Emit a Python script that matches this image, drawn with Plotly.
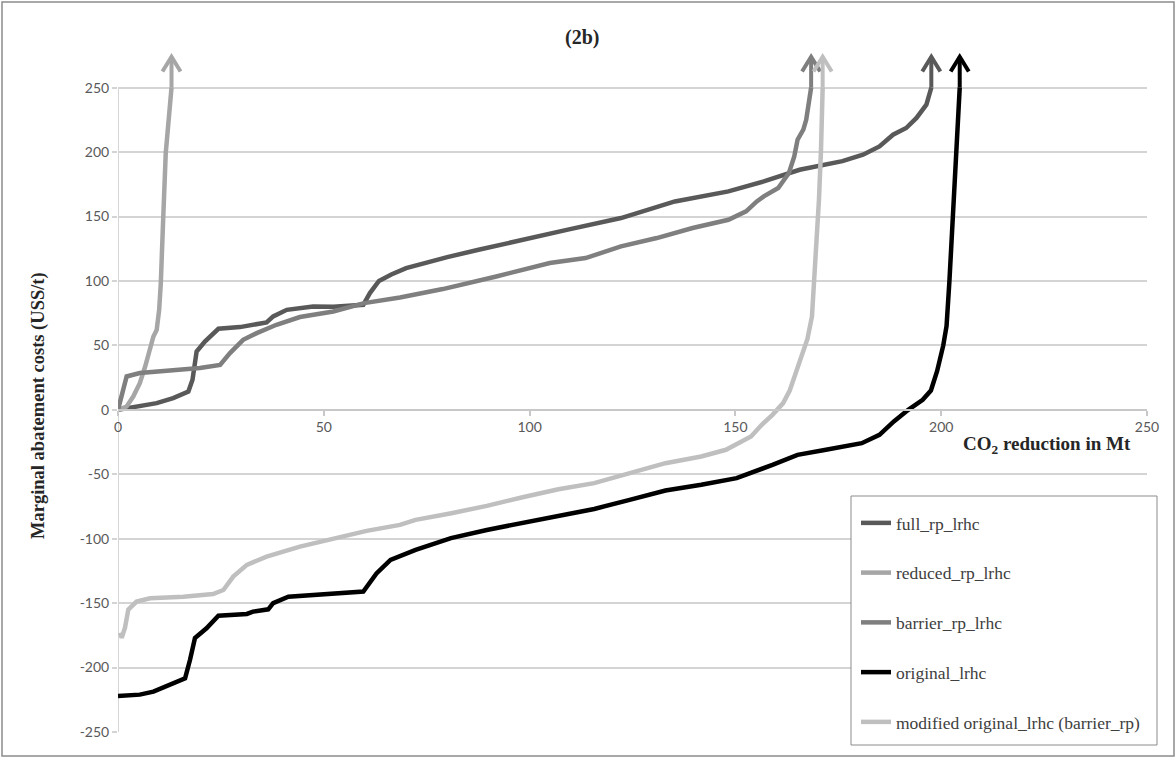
import plotly.graph_objects as go

# Marginal abatement cost curves: cumulative CO2 reduction (Mt) vs. cost (US$/t)
full_x = [0, 5.3, 9.4, 13.4, 17.1, 18.1, 19.1, 21.1, 24.4, 29.6, 32.9, 36.1, 37.7, 41, 47.4,
          52.3, 59.6, 61.2, 63.4, 66.4, 70, 74.5, 80, 87.6, 96.2, 109.3, 122.2, 135.3, 148.3,
          156.9, 165.6, 172.1, 176, 181, 185, 188.3, 191.5, 194, 196.4, 197.6]
full_y = [0, 2.6, 5.2, 9.1, 14.2, 23.3, 45.3, 53, 62.9, 64.2, 66, 67.8, 72.5, 77.6, 80.2,
          80, 81.5, 90.6, 100, 105, 110, 113.9, 118.5, 124.2, 130.7, 139.8, 148.8, 161.7, 169.5,
          177.3, 186.3, 190.2, 193, 198, 204.4, 213.5, 218.7, 226.5, 236.8, 250]

reduced_x = [0, 2.1, 3.7, 5.3, 6.6, 7.4, 8.6, 9.4, 10, 10.4, 10.8, 11, 11.6, 12.3, 13]
reduced_y = [0, 2.6, 10.3, 20.7, 33.6, 44, 56.9, 62, 77.6, 98.4, 124.2, 150, 199.3, 225, 250]

barrier_x = [0, 1.5, 2.1, 5.3, 11.8, 19.9, 24.8, 27.2, 30.4, 33.7, 38.5, 44.2, 52.3, 59.8, 68.5,
             78.9, 91.9, 104.9, 113.6, 122.2, 130.9, 139.6, 148.3, 152.6, 155.2, 156.9, 160.4,
             163, 164.3, 165.1, 166.5, 167.2, 168.4]
barrier_y = [0, 20.7, 25.9, 28.5, 30.5, 32.4, 34.9, 44, 54.3, 59.5, 66, 72, 76.3, 82.8, 87.2,
             93.7, 103.5, 113.9, 117.8, 126.8, 133.3, 141.1, 147.5, 154, 161.7, 165.6, 172.1,
             183.8, 196.7, 209.6, 217.4, 225, 250]

original_x = [0, 5.3, 8.6, 12.6, 16.3, 17.5, 18.7, 21.5, 24.4, 31.3, 32.8, 36.5, 37.7, 41.4, 52.3,
              59.6, 62.8, 66.2, 72.3, 80.9, 89.6, 98.3, 107, 115.7, 124.3, 133, 141.7, 150.3, 159,
              165.1, 172, 180.7, 185, 188.5, 192, 195.5, 197.5, 199, 200.5, 201.3, 202, 202.8,
              203.5, 204.5]
original_y = [-222, -221, -218.7, -213.5, -208.3, -194, -177, -169.5, -159.7, -158.4, -156.6,
              -154.8, -150, -145, -143, -141, -127, -116.5, -108.7, -99.6, -93.2, -88, -82.8,
              -76.9, -69.9, -62.6, -58.2, -53, -42.7, -34.9, -31, -25.9, -19.4, -9, 0, 7.8, 15,
              30, 50, 65, 100, 150, 200, 250]

modified_x = [0.5, 0.9, 1.7, 2.5, 4.5, 7.8, 15.9, 23.1, 25.6, 28, 31.3, 36.1, 44.2, 52.3, 60.4,
              68.5, 72.3, 81, 89.6, 98.3, 107, 115.7, 124.3, 133, 141.7, 147.7, 153.8, 156.4,
              159, 161.6, 163.2, 165, 166.3, 167.5, 168.6, 169.5, 170.3, 170.8, 171.2]
modified_y = [-173, -177, -169, -155, -148.8, -146.2, -145, -143, -139.8, -129.4, -120.3, -113.9,
              -106.1, -99.6, -93.9, -89.3, -85.4, -80.2, -74.5, -67.8, -61.6, -56.9, -49.2,
              -41.4, -36.2, -31, -20.7, -11.6, -3.9, 5.2, 15, 31, 45, 55, 72.5, 113.9, 163,
              201.9, 250]

series = [
    ("full_rp_lrhc", full_x, full_y, "#595959"),
    ("reduced_rp_lrhc", reduced_x, reduced_y, "#a6a6a6"),
    ("barrier_rp_lrhc", barrier_x, barrier_y, "#7f7f7f"),
    ("original_lrhc", original_x, original_y, "#000000"),
    ("modified original_lrhc (barrier_rp)", modified_x, modified_y, "#bfbfbf"),
]

x_ticks = [0, 50, 100, 150, 200, 250]
y_ticks = [-250, -200, -150, -100, -50, 0, 50, 100, 150, 200, 250]

Y_MIN, Y_MAX = -250, 280
ARROW_TIP = 274      # arrow tip level (US$/t)
ARROW_HALF = 2.2     # chevron half-width (Mt)
ARROW_DEPTH = 11.5   # chevron depth (US$/t)

# pixel layout of the plotting area
L, R, T, B = 118, 29, 49, 26
W, H = 1176, 758
PW, PH = W - L - R, H - T - B


def px(xp):
    return (xp - L) / PW


def py(yp):
    return (H - B - yp) / PH


fig = go.Figure()

for i, (name, xs, ys, color) in enumerate(series):
    fig.add_trace(go.Scatter(
        x=xs, y=ys, mode="lines", name=name, legendgroup=f"g{i}",
        line=dict(color=color, width=4.5),
        hoverinfo="skip",
    ))
    # upward arrow continuing the curve past the top of the scale
    xe, ye = xs[-1], ys[-1]
    fig.add_trace(go.Scatter(
        x=[xe, xe, None, xe - ARROW_HALF, xe, xe + ARROW_HALF],
        y=[ye, ARROW_TIP, None, ARROW_TIP - ARROW_DEPTH, ARROW_TIP, ARROW_TIP - ARROW_DEPTH],
        mode="lines", showlegend=False, legendgroup=f"g{i}",
        line=dict(color=color, width=4),
        hoverinfo="skip",
    ))

tick_font = dict(family="Lato, Carlito, sans-serif", size=14, color="#595959")
serif = "Liberation Serif, Times New Roman, serif"

fig.update_layout(
    width=W, height=H,
    margin=dict(l=L, r=R, t=T, b=B, autoexpand=False),
    paper_bgcolor="white", plot_bgcolor="white",
    showlegend=True,
    legend=dict(
        x=px(856), y=py(505), xanchor="left", yanchor="top",
        font=dict(family=serif, size=17.5, color="#404040"),
        bgcolor="rgba(0,0,0,0)", borderwidth=0,
        tracegroupgap=24, traceorder="grouped",
    ),
    xaxis=dict(
        range=[0, 250], tickvals=x_ticks, ticktext=[str(v) for v in x_ticks],
        showgrid=False, zeroline=False,
        showline=True, linecolor="#c8c8c8", linewidth=1.5,
        ticks="outside", ticklen=5, tickcolor="#c8c8c8", tickwidth=1.5,
        anchor="free", position=(0 - Y_MIN) / (Y_MAX - Y_MIN),
        tickfont=tick_font,
    ),
    yaxis=dict(
        range=[Y_MIN, Y_MAX], tickvals=y_ticks, ticktext=[str(v) for v in y_ticks],
        showgrid=True, gridcolor="#d4d4d4", gridwidth=1.5,
        zeroline=False, showline=False,
        ticks="outside", ticklen=5, tickcolor="#d4d4d4", tickwidth=1.5,
        tickfont=tick_font,
    ),
    shapes=[
        # vertical axis line spanning the labelled range only
        dict(type="line", xref="x", yref="y", x0=0, x1=0, y0=-250, y1=250,
             line=dict(color="#c8c8c8", width=1.5), layer="below"),
        # legend box
        dict(type="rect", xref="paper", yref="paper",
             x0=px(851), x1=px(1157), y0=py(745), y1=py(496),
             line=dict(color="#8c8c8c", width=1), fillcolor="white", layer="above"),
        # chart frame
        dict(type="rect", xref="paper", yref="paper",
             x0=px(2), x1=px(1174), y0=py(756), y1=py(2),
             line=dict(color="#8c8c8c", width=1.5), fillcolor="rgba(0,0,0,0)"),
    ],
    annotations=[
        dict(text="<b>(2b)</b>", xref="paper", yref="paper",
             x=px(582), y=py(37), showarrow=False,
             xanchor="center", yanchor="middle",
             font=dict(family=serif, size=20, color="#262626")),
        dict(text="<b>CO<sub>2</sub> reduction in Mt</b>", xref="paper", yref="paper",
             x=px(1133), y=py(445), showarrow=False,
             xanchor="right", yanchor="middle",
             font=dict(family=serif, size=19, color="#262626")),
        dict(text="<b>Marginal abatement costs (USS/t)</b>", xref="paper", yref="paper",
             x=px(38), y=py(406), showarrow=False, textangle=-90,
             xanchor="center", yanchor="middle",
             font=dict(family=serif, size=18.5, color="#262626")),
    ],
)

fig.write_html("out.html")
